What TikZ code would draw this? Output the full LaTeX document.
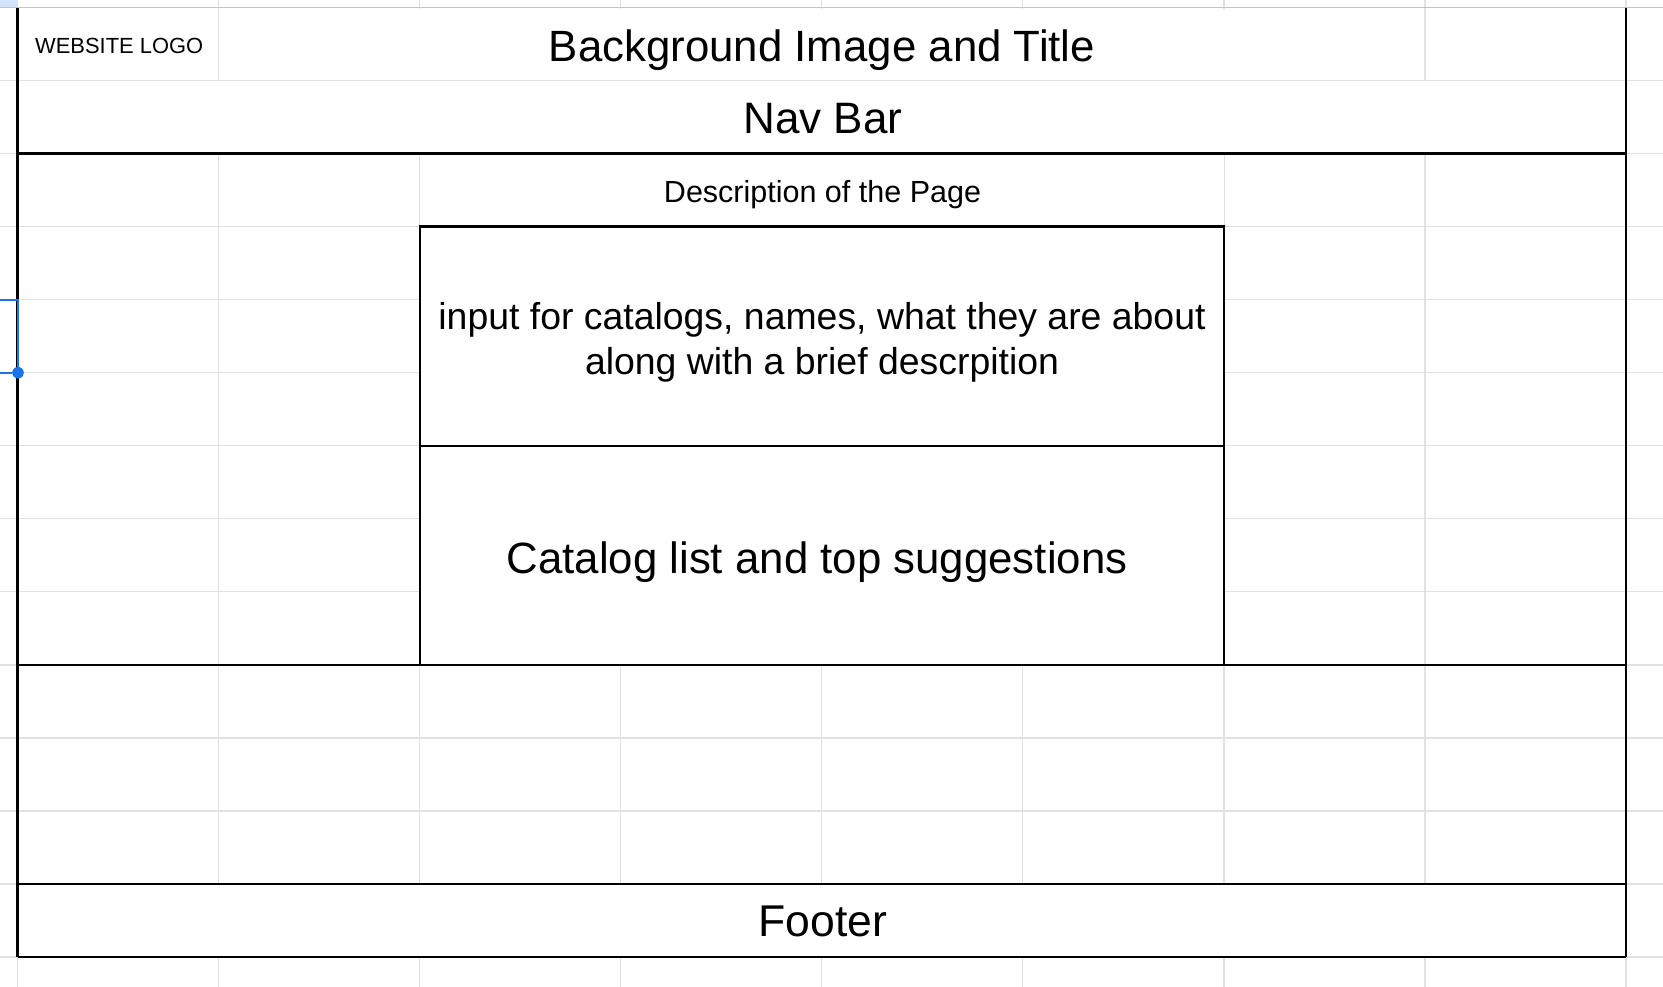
\documentclass[tikz,border=0pt]{standalone}
\usepackage{fontspec}
\setmainfont{Liberation Sans}
\definecolor{gridgray}{HTML}{E1E1E1}
\definecolor{headgray}{HTML}{C4C4C4}
\definecolor{selblue}{HTML}{1A73E8}
\definecolor{cornerblue}{HTML}{D3E3FD}
\begin{document}
\begin{tikzpicture}[x=1pt,y=-1pt,
  gridline/.style={draw=gridgray,line width=1.3pt},
  headline/.style={draw=headgray,line width=1.6pt},
  rule/.style={draw=black,line width=2.2pt},
  selection/.style={draw=selblue,line width=2pt},
  cell/.style={inner sep=0pt,text=black}]
% page area
\fill[white] (0,0) rectangle (1663,987);
\useasboundingbox (0,0) rectangle (1663,987);
% sheet grid: 8 columns of 201.06, 13 rows of 73.04
\pgfmathsetmacro{\cw}{201.06}
\pgfmathsetmacro{\rh}{73.04}
\fill[cornerblue] (0,0) rectangle (17.5,7.5);
\foreach \k in {1,...,13}{
  \draw[gridline] (0,{7.5+\k*\rh}) -- (1663,{7.5+\k*\rh});
}
\foreach \k in {0,...,8}{
  \draw[gridline] ({17.5+\k*\cw},0) -- ({17.5+\k*\cw},987);
}
\draw[headline] (0,7.5) -- (1663,7.5);
% merged cells hide the grid inside them
\fill[white] (219.6,8.6) rectangle (1424.4,79.6);      % title
\fill[white] (17.5,81.4) rectangle (1626,153.6);       % nav bar
\fill[white] (420.8,154.6) rectangle (1223.8,226.6);   % description
\fill[white] (420,226.6) rectangle (1224,664.9);       % content boxes
\fill[white] (17.5,884) rectangle (1626,957);          % footer
% black borders
\draw[rule] (17.5,8.3) -- (17.5,957);
\draw[rule] (1626,8.3) -- (1626,957);
\draw[rule] (17.5,153.6) -- (1626,153.6);
\draw[rule] (420,226.6) rectangle (1224,664.9);
\draw[rule] (420,445.7) -- (1224,445.7);
\draw[rule] (17.5,664.9) -- (1626,664.9);
\draw[rule] (17.5,884) -- (1626,884);
\draw[rule] (17.5,957) -- (1626,957);
% selected cell marker
\draw[selection] (0,299.7) -- (17.5,299.7) -- (17.5,372.7);
\draw[selection] (0,372.7) -- (12,372.7);
\fill[selblue] (18,372.7) circle (5.8);
% cell texts
\node[cell,anchor=base west,font=\fontsize{21.9}{26}\selectfont] (logo) at (35,53.3) {WEBSITE LOGO};
\node[cell,anchor=base,font=\fontsize{43.8}{52}\selectfont] (title) at (822,61.7) {Background Image and Title};
\node[cell,anchor=base,font=\fontsize{44}{52}\selectfont] (nav) at (823,134) {Nav Bar};
\node[cell,anchor=base,font=\fontsize{30.5}{36}\selectfont] (desc) at (822.5,202.3) {Description of the Page};
\node[cell,anchor=base,text width=800,align=flush center,font=\fontsize{37.4}{44.6}\selectfont] (input) at (822,329.4)
  {input for catalogs, names, what they are about\\along with a brief descrpition};
\node[cell,anchor=base,font=\fontsize{43.8}{52}\selectfont] (catalog) at (817,573) {Catalog list and top suggestions};
\node[cell,anchor=base,font=\fontsize{44.5}{52}\selectfont] (footer) at (823,936.7) {Footer};
\end{tikzpicture}
\end{document}
